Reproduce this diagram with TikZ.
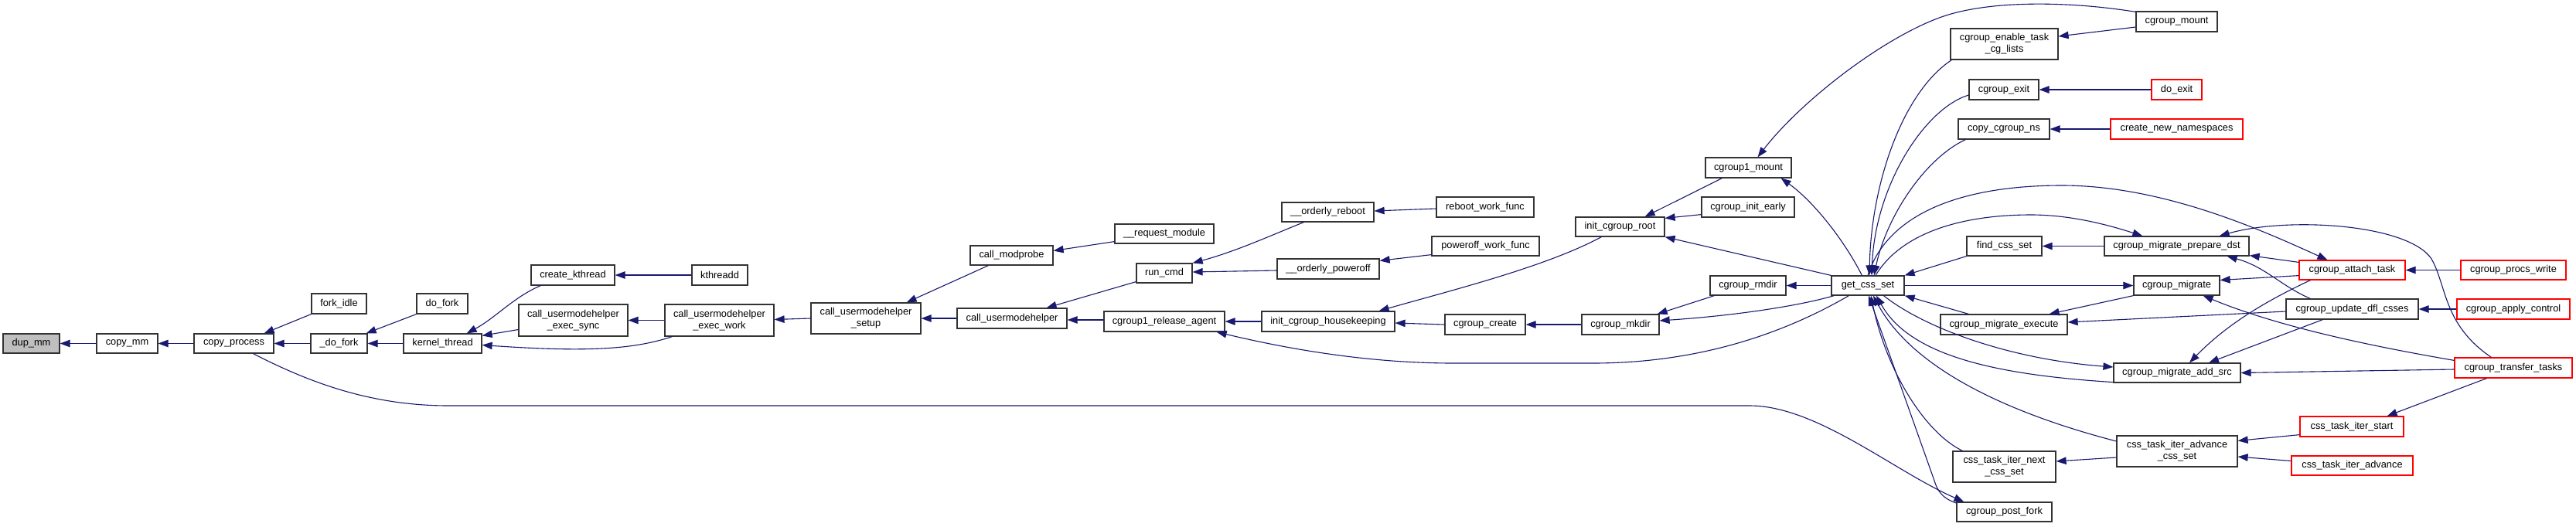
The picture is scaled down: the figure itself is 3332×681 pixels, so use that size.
\documentclass[tikz,border=0pt]{standalone}
\usepackage{fontspec}
\setmainfont{Liberation Sans}
\usetikzlibrary{arrows.meta,calc}
\definecolor{edgecol}{HTML}{191970}
\definecolor{boxcol}{HTML}{333333}
\tikzset{
  fn/.style={draw=boxcol, line width=1.2pt, rectangle, inner sep=0pt, align=center, fill=white,
    font=\fontsize{12.8}{15}\selectfont},
  fnred/.style={fn, draw=red},
  fngray/.style={fn, fill=black!25},
  cl/.style={draw=edgecol, line width=1.1pt, -{Triangle[length=13pt,width=9.5pt,fill=edgecol]}}
}
\newcommand{\fnode}[7][fn]{\node[#1, minimum width={(#5)-(#3)}, minimum height={(#6)-(#4)}] (#2) at ({((#3)+(#5))/2},{((#4)+(#6))/2}) {#7};}
\begin{document}
\begin{tikzpicture}[x=1pt,y=-1pt]
\fill[white] (0,0) rectangle (3332,681);
\useasboundingbox (0,0) rectangle (3332,681);
% nodes
\fnode[fngray]{dupmm}{4}{432}{77}{457}{dup\_mm}
\fnode{copymm}{125}{432}{204}{457}{copy\_mm}
\fnode{copyprocess}{251}{432}{354}{457}{copy\_process}
\fnode{forkidle}{403}{380}{474}{406}{fork\_idle}
\fnode{ddofork}{402}{432}{475}{457}{\_do\_fork}
\fnode{dofork}{539}{380}{605}{406}{do\_fork}
\fnode{kthread}{522}{432}{623}{457}{kernel\_thread}
\fnode{createkthread}{687}{343}{795}{369}{create\_kthread}
\fnode{kthreadd}{895}{343}{967}{369}{kthreadd}
\fnode{umhsync}{671}{394}{812}{435}{call\_usermodehelper\\\_exec\_sync}
\fnode{umhwork}{860}{394}{1001}{435}{call\_usermodehelper\\\_exec\_work}
\fnode{umhsetup}{1049}{392}{1191}{432}{call\_usermodehelper\\\_setup}
\fnode{callmodprobe}{1255}{318}{1362}{343}{call\_modprobe}
\fnode{callumh}{1238}{399}{1380}{425}{call\_usermodehelper}
\fnode{reqmodule}{1442}{290}{1570}{315}{\_\_request\_module}
\fnode{runcmd}{1470}{341}{1542}{366}{run\_cmd}
\fnode{release}{1428}{403}{1584}{429}{cgroup1\_release\_agent}
\fnode{oreboot}{1658}{262}{1777}{287}{\_\_orderly\_reboot}
\fnode{opoweroff}{1652}{335}{1784}{361}{\_\_orderly\_poweroff}
\fnode{rebootwf}{1858}{255}{1984}{281}{reboot\_work\_func}
\fnode{poweroffwf}{1852}{306}{1991}{331}{poweroff\_work\_func}
\fnode{housekeeping}{1632}{403}{1804}{429}{init\_cgroup\_housekeeping}
\fnode{cgcreate}{1869}{407}{1973}{433}{cgroup\_create}
\fnode{cgonemount}{2206}{204}{2317}{230}{cgroup1\_mount}
\fnode{initearly}{2201}{255}{2321}{281}{cgroup\_init\_early}
\fnode{initroot}{2038}{281}{2153}{306}{init\_cgroup\_root}
\fnode{rmdir}{2212}{357}{2310}{382}{cgroup\_rmdir}
\fnode{mkdir}{2046}{407}{2146}{433}{cgroup\_mkdir}
\fnode{getcss}{2369}{357}{2463}{382}{get\_css\_set}
\fnode{enabletask}{2523}{37}{2662}{77}{cgroup\_enable\_task\\\_cg\_lists}
\fnode{cgexit}{2547}{103}{2637}{129}{cgroup\_exit}
\fnode{copyns}{2533}{154}{2651}{180}{copy\_cgroup\_ns}
\fnode{findcss}{2544}{306}{2641}{331}{find\_css\_set}
\fnode{migexec}{2510}{407}{2674}{433}{cgroup\_migrate\_execute}
\fnode{iternext}{2526}{584}{2659}{624}{css\_task\_iter\_next\\\_css\_set}
\fnode{postfork}{2531}{650}{2654}{675}{cgroup\_post\_fork}
\fnode{cgmount}{2763}{15}{2868}{41}{cgroup\_mount}
\fnode[fnred]{doexit}{2783}{103}{2848}{129}{do\_exit}
\fnode[fnred]{newns}{2730}{154}{2901}{180}{create\_new\_namespaces}
\fnode{prepdst}{2722}{306}{2909}{331}{cgroup\_migrate\_prepare\_dst}
\fnode{migrate}{2760}{357}{2871}{382}{cgroup\_migrate}
\fnode{addsrc}{2734}{470}{2898}{495}{cgroup\_migrate\_add\_src}
\fnode{iteradvcss}{2738}{564}{2894}{604}{css\_task\_iter\_advance\\\_css\_set}
\fnode[fnred]{attach}{2974}{337}{3111}{362}{cgroup\_attach\_task}
\fnode[fnred]{procswrite}{3183}{337}{3319}{362}{cgroup\_procs\_write}
\fnode{updatedfl}{2957}{387}{3128}{413}{cgroup\_update\_dfl\_csses}
\fnode[fnred]{applyctl}{3178}{387}{3324}{413}{cgroup\_apply\_control}
\fnode[fnred]{transfer}{3175}{463}{3327}{489}{cgroup\_transfer\_tasks}
\fnode[fnred]{iterstart}{2975}{539}{3109}{565}{css\_task\_iter\_start}
\fnode[fnred]{iteradv}{2964}{590}{3121}{615}{css\_task\_iter\_advance}
% edges
\draw[cl] (copymm) -- (dupmm);
\draw[cl] (copyprocess) -- (copymm);
\draw[cl] (forkidle.south west) -- ($(copyprocess.north east)+(-13,0)$);
\draw[cl] (ddofork) -- (copyprocess);
\draw[cl] (dofork.south west) -- ($(ddofork.north east)+(-2,0)$);
\draw[cl] (kthread) -- (ddofork);
\draw[cl] ($(createkthread.south west)+(13,0)$) .. controls (665,384) and (640,412) .. ($(kthread.north east)+(-20,0)$);
\draw[cl] ($(umhsync.west)+(0,12)$) -- ($(kthread.north east)+(0,3)$);
\draw[cl] ($(umhwork.south west)+(10,0)$) .. controls (820,452) and (760,456) .. ($(kthread.east)+(0,2)$);
\draw[cl] (kthreadd) -- (createkthread);
\draw[cl] (umhwork) -- (umhsync);
\draw[cl] (umhsetup.west) -- ($(umhwork.east)+(0,-1)$);
\draw[cl] ($(callmodprobe.south west)+(24,0)$) -- ($(umhsetup.north east)+(-19,0)$);
\draw[cl] (callumh) -- (umhsetup);
\draw[cl] ($(reqmodule.south west)+(0,-3)$) -- ($(callmodprobe.east)+(0,-6)$);
\draw[cl] ($(runcmd.south west)+(0,-2)$) -- ($(callumh.north east)+(-27,0)$);
\draw[cl] ($(release.west)+(0,-2)$) -- ($(callumh.east)+(0,2)$);
\draw[cl] ($(oreboot.south west)+(29,0)$) .. controls (1650,302) and (1600,325) .. (runcmd.north east);
\draw[cl] ($(opoweroff.west)+(0,2)$) -- ($(runcmd.east)+(0,-1.5)$);
\draw[cl] ($(rebootwf.west)+(0,2)$) -- ($(oreboot.east)+(0,-1.5)$);
\draw[cl] ($(poweroffwf.south west)+(0,-2)$) -- ($(opoweroff.north east)+(0,3)$);
\draw[cl] (housekeeping) -- (release);
\draw[cl] ($(getcss.south west)+(23,0)$) .. controls (2310,430) and (2200,470) .. (2060,470) -- (1880,470) .. controls (1780,470) and (1680,455) .. ($(release.south east)+(-11,0)$);
\draw[cl] ($(initroot.south west)+(34,0)$) .. controls (2000,345) and (1880,375) .. ($(housekeeping.north east)+(-21,0)$);
\draw[cl] (cgcreate.west) -- ($(housekeeping.east)+(0,2)$);
\draw[cl] (mkdir) -- (cgcreate);
\draw[cl] ($(rmdir.south west)+(6,0)$) -- ($(mkdir.north east)+(-3,0)$);
\draw[cl] ($(getcss.south west)+(4,0)$) .. controls (2330,395) and (2250,408) .. ($(mkdir.east)+(0,-5)$);
\draw[cl] (getcss) -- (rmdir);
\draw[cl] ($(cgonemount.south west)+(22,0)$) -- ($(initroot.north east)+(-26,0)$);
\draw[cl] ($(initearly.south west)+(0,-4)$) -- ($(initroot.north east)+(0,2)$);
\draw[cl] (getcss.north west) -- (initroot.south east);
\draw[cl] ($(getcss.north west)+(40,0)$) .. controls (2385,310) and (2345,260) .. ($(cgonemount.south east)+(-14,0)$);
\draw[cl] ($(cgmount.north west)+(0,1)$) .. controls (2680,2) and (2580,0) .. (2517,20) .. controls (2440,45) and (2330,130) .. ($(cgonemount.north)+(12,0)$);
\draw[cl] ($(cgmount.west)+(0,7)$) -- ($(enabletask.east)+(0,-10)$);
\draw[cl] ($(enabletask.south west)+(2,0)$) .. controls (2460,120) and (2420,240) .. ($(getcss.north)+(2,0)$);
\draw[cl] ($(cgexit.west)+(0,7)$) .. controls (2490,140) and (2425,240) .. ($(getcss.north)+(5,0)$);
\draw[cl] ($(copyns.south west)+(10,0)$) .. controls (2490,205) and (2440,280) .. ($(getcss.north)+(8,0)$);
\draw[cl] (doexit) -- (cgexit);
\draw[cl] (newns) -- (copyns);
\draw[cl] (getcss.north) .. controls (2440,280) and (2530,240) .. (2667,240) .. controls (2800,240) and (2930,300) .. ($(attach.north)+(-32,0)$);
\draw[cl] ($(getcss.north)+(10,0)$) .. controls (2460,300) and (2540,278) .. (2627,278) .. controls (2680,278) and (2730,292) .. ($(prepdst.north west)+(50,0)$);
\draw[cl] (prepdst) -- (findcss);
\draw[cl] ($(attach.north west)+(0,3)$) -- ($(prepdst.south east)+(0,-1)$);
\draw[cl] ($(updatedfl.north west)+(32,0)$) .. controls (2950,370) and (2930,345) .. ($(prepdst.south east)+(-29,0)$);
\draw[cl] ($(transfer.north west)+(48,0)$) .. controls (3160,420) and (3165,370) .. (3145,335) .. controls (3115,290) and (2960,280) .. ($(prepdst.north east)+(-39,0)$);
\draw[cl] ($(attach.south west)+(0,-6)$) -- ($(migrate.east)+(0,-7)$);
\draw[cl] (procswrite) -- (attach);
\draw[cl] (migrate.south west) -- ($(migexec.north east)+(-24,0)$);
\draw[cl] ($(updatedfl.west)+(0,3)$) -- ($(migexec.east)+(0,-3)$);
\draw[cl] ($(transfer.north west)+(0,4)$) .. controls (3050,445) and (2940,420) .. ($(migrate.south east)+(-22,0)$);
\draw[cl] (applyctl) -- (updatedfl);
\draw[cl] ($(attach.south west)+(15,0)$) .. controls (2930,390) and (2880,420) .. ($(addsrc.north)+(16,0)$);
\draw[cl] ($(updatedfl.south west)+(48,0)$) -- ($(addsrc.north)+(41,0)$);
\draw[cl] ($(transfer.west)+(0,2)$) -- (addsrc.east);
\draw[cl] ($(transfer.south west)+(42,0)$) -- ($(iterstart.north east)+(-22,0)$);
\draw[cl] ($(iterstart.south west)+(0,-3)$) -- ($(iteradvcss.north east)+(0,7)$);
\draw[cl] ($(iteradv.west)+(0,-6)$) -- ($(iteradvcss.east)+(0,7)$);
\draw[cl] ($(iteradvcss.west)+(0,8)$) -- ($(iternext.east)+(0,-7)$);
\draw[cl] (getcss) -- (migrate);
\draw[cl] ($(migexec.north west)+(37,0)$) -- (getcss.south east);
\draw[cl] (findcss.south west) -- (getcss.north east);
\draw[cl] ($(getcss.south west)+(68,0)$) .. controls (2490,425) and (2600,465) .. ($(addsrc.west)+(0,-7.5)$);
\draw[cl] ($(addsrc.south west)+(0,-1)$) .. controls (2580,485) and (2470,460) .. ($(getcss.south)+(11,0)$);
\draw[cl] ($(iteradvcss.west)+(0,-13)$) .. controls (2580,530) and (2470,470) .. ($(getcss.south)+(7,0)$);
\draw[cl] ($(iternext.north west)+(13,0)$) .. controls (2490,560) and (2440,480) .. ($(getcss.south)+(4,0)$);
\draw[cl] ($(postfork.north west)+(1,2)$) .. controls (2512,645) and (2506,635) .. (2502,622) -- ($(getcss.south)+(1,0)$);
\draw[cl] ($(copyprocess.south)+(25,0)$) .. controls (400,495) and (480,525) .. (580,525) -- (2263,525) .. controls (2350,525) and (2450,610) .. ($(postfork.north west)+(10,0)$);
\end{tikzpicture}
\end{document}
